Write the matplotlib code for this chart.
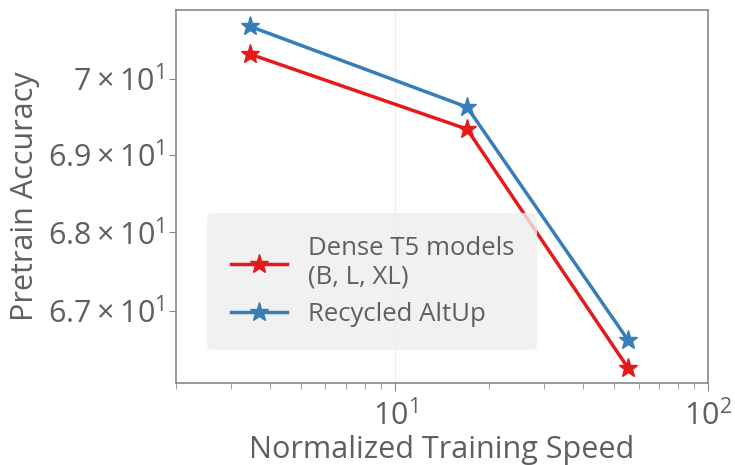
import numpy as np
import matplotlib.pyplot as plt
from matplotlib.ticker import FixedLocator, NullFormatter, NullLocator

plt.rcParams['font.family'] = ['Open Sans', 'DejaVu Sans']
plt.rcParams['mathtext.fontset'] = 'custom'
plt.rcParams['mathtext.rm'] = 'Open Sans'
plt.rcParams['mathtext.it'] = 'Open Sans'

speed = [3.45, 17.0, 55.5]
dense_acc = [70.33, 69.34, 66.28]
altup_acc = [70.70, 69.63, 66.63]

y_ticks = [67, 68, 69, 70]
y_labels = [r"$6.7\times10^{1}$", r"$6.8\times10^{1}$", r"$6.9\times10^{1}$", r"$7\times10^{1}$"]

gray = "#5f5f5f"
red = "#e41a1c"
blue = "#377eb8"

fig = plt.figure(figsize=(7.35, 4.65), dpi=100)
ax = fig.add_axes([176/735, 1 - 383/465, 532/735, 373/465])

ax.plot(speed, dense_acc, color=red, lw=2.5, marker="*", ms=14, label="Dense T5 models\n(B, L, XL)")
ax.plot(speed, altup_acc, color=blue, lw=2.5, marker="*", ms=14, label="Recycled AltUp")

ax.set_xscale("log")
ax.set_yscale("log")
ax.set_xlim(2, 100)
ax.set_ylim(66.09, 70.92)

ax.yaxis.set_major_locator(FixedLocator(y_ticks))
ax.yaxis.set_minor_locator(NullLocator())
ax.set_yticklabels(y_labels)
ax.yaxis.set_minor_formatter(NullFormatter())

ax.grid(True, axis="x", which="major", color="#ebebeb", lw=0.8)
ax.set_axisbelow(True)

for s in ax.spines.values():
    s.set_color("#888888")
    s.set_linewidth(1.2)
ax.tick_params(axis="both", which="both", colors="#888888", labelcolor=gray, labelsize=22)
ax.tick_params(axis="x", which="major", length=6, pad=6)
ax.tick_params(axis="x", which="minor", length=4)
ax.tick_params(axis="y", length=5)

ax.set_xlabel("Normalized Training Speed", fontsize=22, color=gray, labelpad=2)
ax.set_ylabel("Pretrain Accuracy", fontsize=22, color=gray, labelpad=6)

leg = ax.legend(loc="lower left", bbox_to_anchor=(0.035, 0.055), fontsize=18.5,
                frameon=True, facecolor="#eeeeee", edgecolor="none", framealpha=0.8,
                handlelength=2.2, borderpad=0.9, labelspacing=0.45)
for t in leg.get_texts():
    t.set_color(gray)

fig.savefig("out.png", dpi=100)
